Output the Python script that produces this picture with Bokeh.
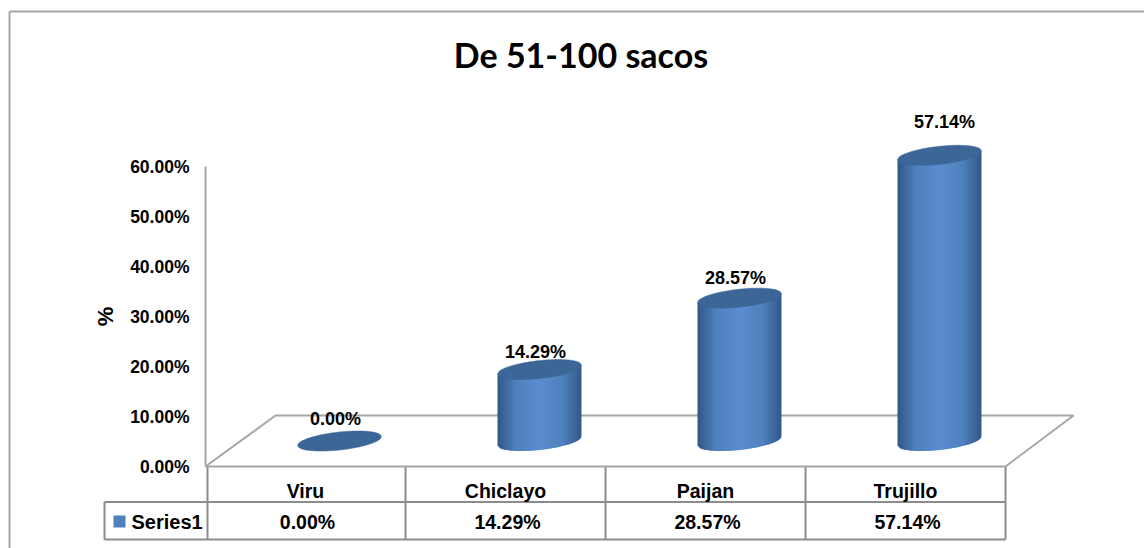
import math
from bokeh.plotting import figure
from bokeh.embed import file_html
from bokeh.resources import INLINE
from bokeh.core.properties import value
from bokeh.models import FixedTicker, PrintfTickFormatter, Range1d

title_text = "De 51-100 sacos"
categories = ["Viru", "Chiclayo", "Paijan", "Trujillo"]
series_name = "Series1"
values = [0.00, 14.29, 28.57, 57.14]
y_ticks = [0, 10, 20, 30, 40, 50, 60]

FONT = "Liberation Sans"
W, H = 1144, 548
ORG_X, ORG_Y = 0, 0   # page pixel of the figure's corner
PX_X = 200.0   # pixels per category
PX_Y = 5.0     # pixels per percent
X0 = 305.0     # page pixel of category 0
Y0 = 466.0     # page pixel of 0 %

def ux(px):
    return (px - X0) / PX_X

def uy(py):
    return (Y0 - py) / PX_Y

p = figure(width=W, height=H, output_backend="svg", toolbar_location=None,
           x_range=Range1d(ux(ORG_X), ux(ORG_X + W)), y_range=Range1d(uy(ORG_Y + H), uy(ORG_Y)),
           min_border=0, min_border_left=0, min_border_right=0,
           min_border_top=0, min_border_bottom=0)
p.outline_line_color = None
p.grid.visible = False

GREY = "#A6A6A6"
TABLE = "#8C8C8C"

# outer chart frame (cropped by the picture on the right and bottom)
p.line([ux(9), ux(9)], [uy(548), uy(11)], line_color=GREY, line_width=2)
p.line([ux(9), ux(1144)], [uy(11), uy(11)], line_color=GREY, line_width=2)

# floor of the 3D plot
DEPTH_X = 0.34
DEPTH_Y = 10.2
x_l, x_r = -0.5, 3.5
p.line([x_l, x_l + DEPTH_X + 0.01, x_r + DEPTH_X, x_r],
       [0, DEPTH_Y, DEPTH_Y, 0], line_color=GREY, line_width=2)

# data table
row1, row2, left = uy(501.5), uy(539), ux(104)
for i in range(5):
    x = x_l + i + (0.01 if i == 0 else 0)
    p.line([x, x], [0, row2], line_color=TABLE, line_width=2)
p.line([left, x_r], [row1, row1], line_color=TABLE, line_width=2)
p.line([left, x_r], [row2, row2], line_color=TABLE, line_width=2)
p.line([left, left], [row1, row2], line_color=TABLE, line_width=2)

# cylinders
A, B, SLOPE = 42.0, 9.0, 0.105
N = 42

def mix(c1, c2, t):
    return "#%02x%02x%02x" % tuple(round(a + (b - a) * t) for a, b in zip(c1, c2))

EDGE = (48, 88, 136)
MID = (79, 129, 189)
CENTER = (90, 141, 208)

def shade(t):
    t = abs(t)
    return mix(MID, EDGE, (t - 0.55) / 0.45) if t > 0.55 else mix(CENTER, MID, t / 0.55)

def lower(dx):
    return SLOPE * dx - B * math.sqrt(max(0, 1 - (dx / A) ** 2))

def upper(dx):
    return SLOPE * dx + B * math.sqrt(max(0, 1 - (dx / A) ** 2))

xs, ys, cs = [], [], []
cap_xs, cap_ys = [], []
for i, v in enumerate(values):
    cx = i + DEPTH_X / 2
    base = DEPTH_Y / 2
    top = base + v
    if v > 0:
        for k in range(N):
            d0 = -A + 2 * A * k / N
            d1 = -A + 2 * A * (k + 1) / N
            d2 = min(A, d1 + 1.0)   # overlaps the next strip to hide seams
            xs.append([cx + d0 / PX_X, cx + d2 / PX_X, cx + d2 / PX_X, cx + d0 / PX_X])
            ys.append([top + SLOPE * d0 / PX_Y, top + SLOPE * d2 / PX_Y,
                       base + lower(d2) / PX_Y, base + lower(d0) / PX_Y])
            cs.append(shade((d0 + d1) / (2 * A)))
    ds = [-A + 2 * A * k / 60 for k in range(61)]
    cap_xs.append([cx + d / PX_X for d in ds] + [cx + d / PX_X for d in reversed(ds)])
    cap_ys.append([top + upper(d) / PX_Y for d in ds] + [top + lower(d) / PX_Y for d in reversed(ds)])

p.patches(xs, ys, fill_color=cs, line_color=None)
p.patches(cap_xs, cap_ys, fill_color="#3B6696", line_color="#3B6696", line_width=0.5)

# axes
p.yaxis.fixed_location = ux(205)
p.yaxis.bounds = (0, 60)
p.yaxis.ticker = FixedTicker(ticks=y_ticks)
p.yaxis.formatter = PrintfTickFormatter(format="%.2f%%")
p.yaxis.major_tick_line_color = None
p.yaxis.minor_tick_line_color = None
p.yaxis.major_tick_out = 0
p.yaxis.major_tick_in = 0
p.yaxis.minor_tick_out = 0
p.yaxis.axis_line_color = GREY
p.yaxis.axis_line_width = 2
p.yaxis.major_label_standoff = 16
p.yaxis.major_label_text_font = FONT
p.yaxis.major_label_text_font_style = "bold"
p.yaxis.major_label_text_font_size = "17.5px"
p.yaxis.major_label_text_color = "#000000"
p.yaxis.axis_label = "%"
p.yaxis.axis_label_standoff = 9
p.yaxis.axis_label_text_font = FONT
p.yaxis.axis_label_text_font_style = "bold"
p.yaxis.axis_label_text_font_size = "22px"
p.yaxis.axis_label_text_color = "#000000"

p.xaxis.fixed_location = 0
p.xaxis.bounds = (x_l, x_r)
p.xaxis.ticker = FixedTicker(ticks=list(range(len(categories))))
p.xaxis.major_label_overrides = {i: c for i, c in enumerate(categories)}
p.xaxis.major_tick_line_color = None
p.xaxis.minor_tick_line_color = None
p.xaxis.major_tick_out = 0
p.xaxis.major_tick_in = 0
p.xaxis.minor_tick_out = 0
p.xaxis.axis_line_color = GREY
p.xaxis.axis_line_width = 2
p.xaxis.major_label_standoff = 13
p.xaxis.major_label_text_font = FONT
p.xaxis.major_label_text_font_style = "bold"
p.xaxis.major_label_text_font_size = "19.5px"
p.xaxis.major_label_text_color = "#000000"

def labels(x, y, text, size="18px", font=FONT, align="center", **kw):
    p.text(x, y, text=text, text_font=value(font), text_font_style="bold",
           text_font_size=size, text_color="#000000", text_align=align,
           text_baseline="middle", **kw)

# data labels above cylinders
pct = ["%.2f%%" % v for v in values]
label_dx = [-4, -4, -4, 5]
label_dy = [-22, -18, -20, -33]
labels([i + DEPTH_X / 2 for i in range(4)],
       [DEPTH_Y / 2 + v for v in values], pct,
       x_offset=label_dx, y_offset=label_dy)

# data table row and its legend key
labels(list(range(4)), [uy(521)] * 4, pct, size="19.5px", x_offset=2)
p.scatter([ux(119)], [uy(521)], marker="square", size=12, fill_color="#4F81BD", line_color=None)
labels([ux(131)], [uy(521)], [series_name], size="20px", align="left")

# chart title
labels([ux(580.5)], [uy(53.5)], [title_text], size="34px", font="Lato")

open("out.html", "w").write(file_html(p, INLINE))
